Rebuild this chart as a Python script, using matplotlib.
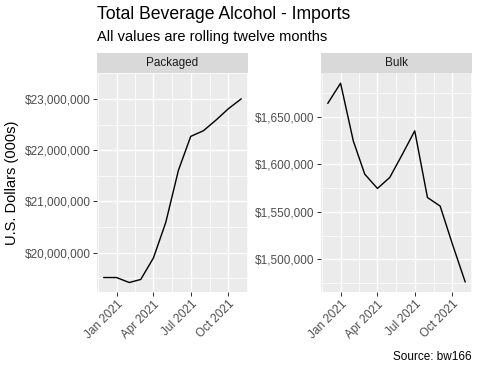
import matplotlib
matplotlib.use("Agg")
import matplotlib.pyplot as plt
import matplotlib.dates as mdates
import matplotlib.ticker as mticker
import numpy as np
import datetime as dt

plt.rcParams['font.family'] = ['Liberation Sans', 'DejaVu Sans']

months = ["2020-12-01", "2021-01-01", "2021-02-01", "2021-03-01", "2021-04-01", "2021-05-01",
          "2021-06-01", "2021-07-01", "2021-08-01", "2021-09-01", "2021-10-01", "2021-11-01"]
packaged = [19517000, 19517000, 19420000, 19480000, 19900000, 20590000,
            21610000, 22270000, 22380000, 22590000, 22810000, 23000000]
bulk = [1664000, 1685000, 1624500, 1589500, 1574500, 1586000,
        1610500, 1635000, 1565000, 1556000, 1516000, 1476500]
panels = ["Packaged", "Bulk"]
packaged_ticks = [20000000, 21000000, 22000000, 23000000]
bulk_ticks = [1500000, 1550000, 1600000, 1650000]
x_ticks = ["2021-01-01", "2021-04-01", "2021-07-01", "2021-10-01"]
x_ticklabels = ["Jan 2021", "Apr 2021", "Jul 2021", "Oct 2021"]

W, H = 480, 384
S = 4 / 3  # text scale
fig = plt.figure(figsize=(W/72, H/72), dpi=72)

dates = [dt.datetime.fromisoformat(d) for d in months]
xt = [dt.datetime.fromisoformat(d) for d in x_ticks]
xn = mdates.date2num(dates)
xtn = mdates.date2num(xt)
xminor = [(a + b) / 2 for a, b in zip(np.r_[xtn[0] - 92, xtn], np.r_[xtn, xtn[-1] + 92])]

def box(x0, x1, ytop, ybot):
    return [x0 / W, 1 - ybot / H, (x1 - x0) / W, (ybot - ytop) / H]

def fmt(v, pos=None):
    return "${:,.0f}".format(v)

specs = [(97, 248, packaged, packaged_ticks), (321, 472, bulk, bulk_ticks)]
for (x0, x1, vals, yt), name in zip(specs, panels):
    ax = fig.add_axes(box(x0, x1, 73.3, 291.7))
    ax.set_facecolor('#EBEBEB')
    for s in ax.spines.values():
        s.set_visible(False)
    ax.plot(xn, vals, color='black', lw=1.4, zorder=3)
    xr = xn[-1] - xn[0]
    ax.set_xlim(xn[0] - 0.05 * xr, xn[-1] + 0.05 * xr)
    yr = max(vals) - min(vals)
    ax.set_ylim(min(vals) - 0.05 * yr, max(vals) + 0.05 * yr)
    ax.set_xticks(xtn)
    ax.set_xticklabels(x_ticklabels, rotation=45, ha='right', rotation_mode='anchor')
    ax.set_xticks(xminor, minor=True)
    ax.set_yticks(yt)
    ym = [(a + b) / 2 for a, b in zip(np.r_[yt[0] - (yt[1] - yt[0]), yt], np.r_[yt, yt[-1] + (yt[1] - yt[0])])]
    ax.set_yticks(ym, minor=True)
    ax.yaxis.set_major_formatter(mticker.FuncFormatter(fmt))
    ax.grid(which='major', color='white', lw=1.4)
    ax.grid(which='minor', color='white', lw=0.7)
    ax.set_axisbelow(True)
    ax.tick_params(which='major', length=2.75 * S, width=1.0, color='#333333', labelsize=8.8 * S,
                   labelcolor='#4D4D4D', pad=2.2 * S)
    ax.tick_params(which='minor', length=0)
    sax = fig.add_axes(box(x0, x1, 53, 73.3))
    sax.set_facecolor('#D9D9D9')
    for s in sax.spines.values():
        s.set_visible(False)
    sax.set_xticks([]); sax.set_yticks([])
    sax.text(0.5, 0.5, name, ha='center', va='center', fontsize=8.8 * S, color='#1A1A1A',
             transform=sax.transAxes)

fig.text(97 / W, 1 - 14.5 / H, "Total Beverage Alcohol - Imports", fontsize=13.2 * S,
         ha='left', va='center', color='black')
fig.text(97 / W, 1 - 37 / H, "All values are rolling twelve months", fontsize=11 * S,
         ha='left', va='center', color='black')
fig.text(12 / W, 1 - 182.5 / H, "U.S. Dollars (000s)", fontsize=11 * S, rotation=90,
         ha='center', va='center', color='black')
fig.text(472 / W, 1 - 357 / H, "Source: bw166", fontsize=8.8 * S, ha='right', va='center',
         color='black')

fig.savefig("out.png", dpi=72)
